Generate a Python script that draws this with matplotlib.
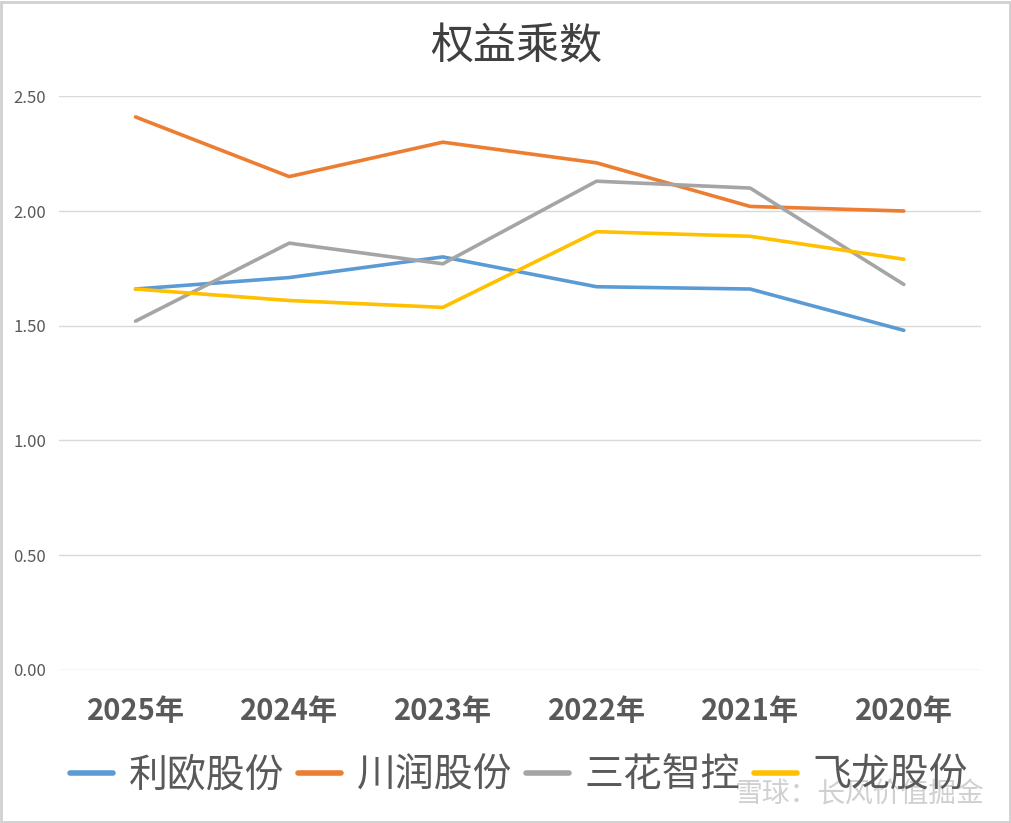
import matplotlib
matplotlib.use('Agg')
import matplotlib.pyplot as plt
from matplotlib.patches import Rectangle

plt.rcParams['font.family'] = ['Noto Sans CJK SC', 'DejaVu Sans']

years = ['2025年', '2024年', '2023年', '2022年', '2021年', '2020年']
liou = [1.66, 1.71, 1.80, 1.67, 1.66, 1.48]
chuanrun = [2.41, 2.15, 2.30, 2.21, 2.02, 2.00]
sanhua = [1.52, 1.86, 1.77, 2.13, 2.10, 1.68]
feilong = [1.66, 1.61, 1.58, 1.91, 1.89, 1.79]

names = ['利欧股份', '川润股份', '三花智控', '飞龙股份']
series = [liou, chuanrun, sanhua, feilong]
colors = ['#5B9BD5', '#ED7D31', '#A5A5A5', '#FFC000']

fig = plt.figure(figsize=(10.12, 8.23), dpi=100)
ax = fig.add_axes([0.058, 0.186, 0.911, 0.697])

x = list(range(len(years)))
for vals, name, c in zip(series, names, colors):
    ax.plot(x, vals, color=c, linewidth=2.6, label=name, solid_capstyle='round')

ax.set_xlim(-0.5, len(years) - 0.5)
ax.set_ylim(0, 2.5)
ax.set_yticks([0, 0.5, 1.0, 1.5, 2.0, 2.5])
ax.set_yticklabels([f'{v:.2f}' for v in [0, 0.5, 1.0, 1.5, 2.0, 2.5]])
ax.set_xticks(x)
ax.set_xticklabels(years, fontsize=21, fontweight='bold', color='#595959')
ax.tick_params(axis='y', labelsize=12, colors='#595959', length=0, pad=9)
ax.tick_params(axis='x', length=0, pad=19)
ax.grid(axis='y', color='#D9D9D9', linewidth=1)
ax.set_axisbelow(True)
for s in ax.spines.values():
    s.set_visible(False)

fig.text(0.51, 0.943, '权益乘数', ha='center', va='center', fontsize=31, color='#404040')

leg = fig.legend(loc='center', bbox_to_anchor=(0.513, 0.058), ncol=4, frameon=False,
                 fontsize=28, handlelength=1.1, handletextpad=0.4, columnspacing=0.36,
                 labelcolor='#595959')
for ln in leg.get_lines():
    ln.set_linewidth(4)

# watermark (overlaps the legend in the original too)
fig.text(0.973, 0.034, '雪球：长风价值掘金', ha='right', va='center', fontsize=20,
         color='#C8C8C8', alpha=0.85)

fig.patches.append(Rectangle((0.001, 0.001), 0.997, 0.997, transform=fig.transFigure,
                             fill=False, edgecolor='#D0D0D0', linewidth=2))

fig.savefig('out.png', dpi=100)
